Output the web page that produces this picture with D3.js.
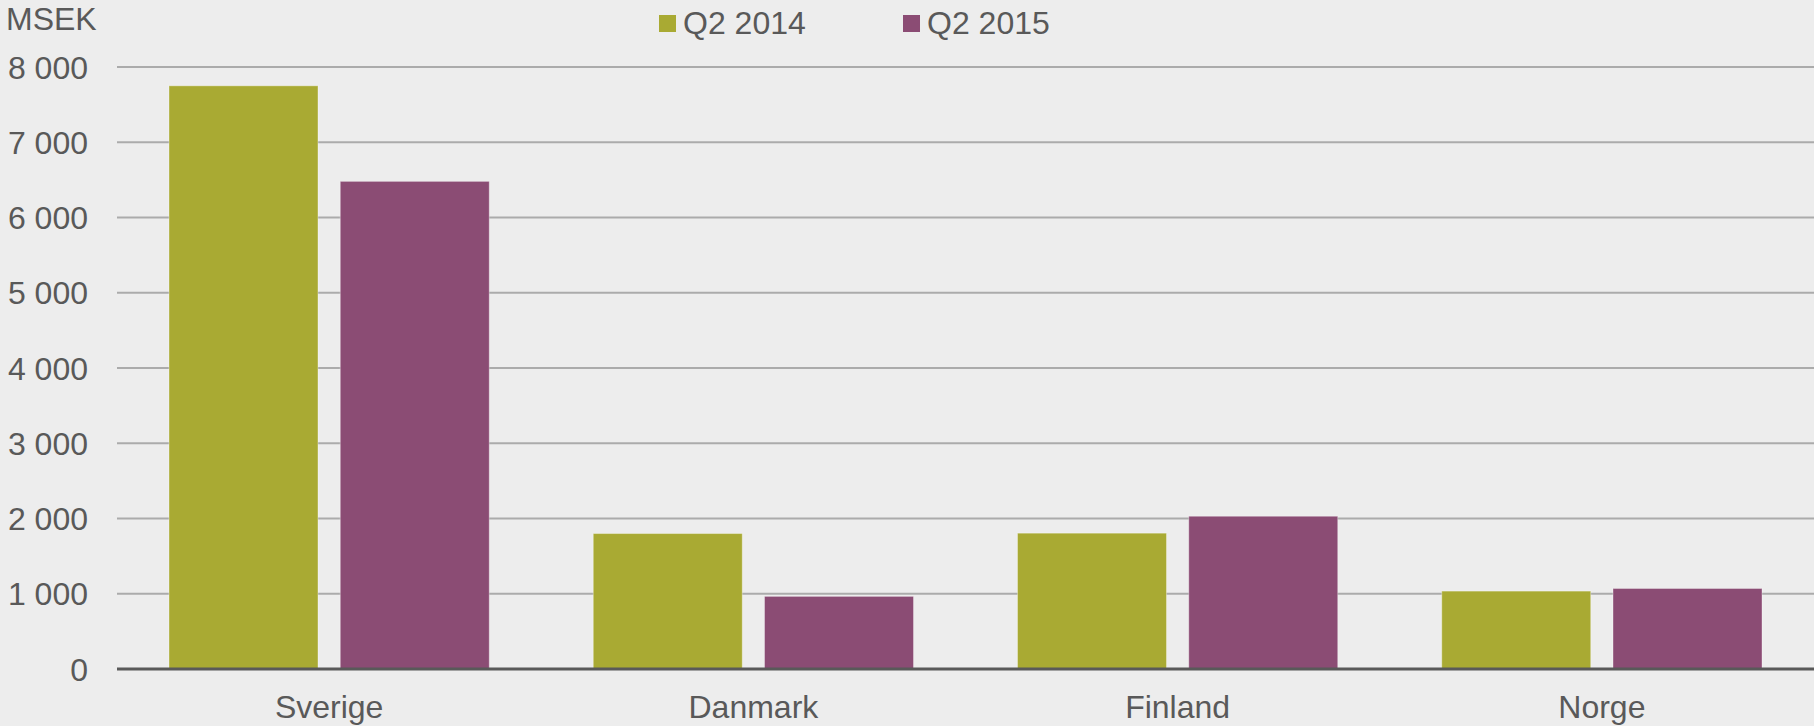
<!DOCTYPE html>
<html>
<head>
<meta charset="utf-8">
<script src="https://cdn.jsdelivr.net/npm/d3@7"></script>
<style>
    html, body { margin: 0; padding: 0; background: #ededed; }
    svg { display: block; font-family: "Liberation Sans", Arial, sans-serif; }
</style>
</head>
<body>
<svg id="chart" width="1814" height="726"></svg>
<script>
// Data
const countries = ['Sverige', 'Danmark', 'Finland', 'Norge'];
const seriesNames = ['Q2 2014', 'Q2 2015'];
const q2_2014 = [7750, 1800, 1805, 1035];
const q2_2015 = [6480, 965, 2030, 1070];
const yTicks = [0, 1000, 2000, 3000, 4000, 5000, 6000, 7000, 8000];

const colors = ['#a9aa33', '#8b4c74'];
const textColor = '#595959';

const W = 1814, H = 726;
const margin = { top: 67, right: 0, bottom: 57, left: 117 };
const iw = W - margin.left - margin.right;
const ih = H - margin.top - margin.bottom;

const svg = d3.select('#chart');
svg.append('rect').attr('width', W).attr('height', H).attr('fill', '#ededed');

const x0 = d3.scaleBand().domain(countries).range([0, iw]).paddingInner(0).paddingOuter(0);
const x1 = d3.scaleBand().domain(seriesNames).range([52, x0.bandwidth() - 52]).paddingInner(0.13);
const y = d3.scaleLinear().domain([0, 8000]).range([ih, 0]);

const g = svg.append('g').attr('transform', `translate(${margin.left},${margin.top})`);

// Gridlines
g.selectAll('line.grid').data(yTicks.filter(t => t > 0)).enter().append('line')
    .attr('class', 'grid')
    .attr('x1', 0).attr('x2', iw)
    .attr('y1', d => y(d)).attr('y2', d => y(d))
    .attr('stroke', '#ababab').attr('stroke-width', 2);

// Y labels
const fmtTick = v => d3.format(',')(v).replace(/,/g, ' ');
g.selectAll('text.ytick').data(yTicks).enter().append('text')
    .attr('class', 'ytick')
    .attr('x', -29).attr('y', d => y(d))
    .attr('dy', '0.36em')
    .attr('text-anchor', 'end')
    .attr('font-size', 32).attr('fill', textColor)
    .text(fmtTick);

// Bars
const rows = countries.map((c, i) => ({ country: c, values: [q2_2014[i], q2_2015[i]] }));
const groups = g.selectAll('g.country').data(rows).enter().append('g')
    .attr('transform', d => `translate(${x0(d.country)},0)`);

groups.selectAll('rect').data(d => d.values.map((v, k) => ({ key: seriesNames[k], value: v, k })))
    .enter().append('rect')
    .attr('x', d => x1(d.key))
    .attr('y', d => y(d.value))
    .attr('width', x1.bandwidth())
    .attr('height', d => ih - y(d.value))
    .attr('fill', d => colors[d.k])
    .attr('stroke', 'rgba(255,255,255,0.35)').attr('stroke-width', 1);

// Axis line
g.append('line')
    .attr('x1', 0).attr('x2', iw)
    .attr('y1', y(0)).attr('y2', y(0))
    .attr('stroke', textColor).attr('stroke-width', 3);

// Category labels
g.selectAll('text.xlab').data(countries).enter().append('text')
    .attr('class', 'xlab')
    .attr('x', d => x0(d) + x0.bandwidth() / 2)
    .attr('y', ih + 49)
    .attr('text-anchor', 'middle')
    .attr('font-size', 32).attr('fill', textColor)
    .text(d => d);

// Unit label
svg.append('text')
    .attr('x', 6).attr('y', 30)
    .attr('font-size', 32).attr('fill', textColor)
    .text('MSEK');

// Legend
const legendX = [659, 903];
const legend = svg.selectAll('g.legend').data(seriesNames).enter().append('g')
    .attr('transform', (d, i) => `translate(${legendX[i]},0)`);
legend.append('rect')
    .attr('x', 0).attr('y', 15).attr('width', 17).attr('height', 17)
    .attr('fill', (d, i) => colors[i]);
legend.append('text')
    .attr('x', 24).attr('y', 34)
    .attr('font-size', 32).attr('fill', textColor)
    .text(d => d);
</script>
</body>
</html>
